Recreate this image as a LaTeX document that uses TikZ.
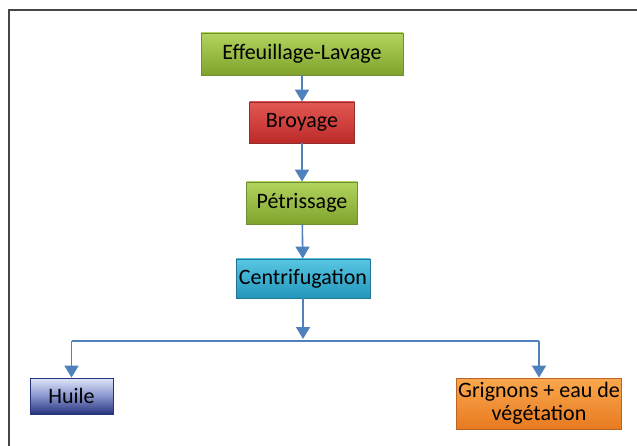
\documentclass[tikz,border=0pt]{standalone}
\usepackage{fontspec}
\setmainfont{Carlito}
\usepackage{xcolor}
\usetikzlibrary{arrows.meta}

\definecolor{fleche}{RGB}{79,129,189}
\definecolor{cadre}{RGB}{70,70,70}
\definecolor{verthaut}{RGB}{178,212,95}
\definecolor{vertbas}{RGB}{128,163,45}
\definecolor{vertbord}{RGB}{112,142,52}
\definecolor{rougehaut}{RGB}{226,88,82}
\definecolor{rougebas}{RGB}{188,42,42}
\definecolor{rougebord}{RGB}{150,45,45}
\definecolor{cyanhaut}{RGB}{88,198,228}
\definecolor{cyanbas}{RGB}{35,150,186}
\definecolor{cyanbord}{RGB}{32,118,148}
\definecolor{bleuhaut}{RGB}{225,230,248}
\definecolor{bleumil}{RGB}{135,148,205}
\definecolor{bleubas}{RGB}{38,52,125}
\definecolor{bleubord}{RGB}{38,52,125}
\definecolor{orangehaut}{RGB}{250,168,78}
\definecolor{orangebas}{RGB}{232,122,32}
\definecolor{orangebord}{RGB}{190,100,35}
\tikzset{
  etape/.style={draw=#1bord, line width=0.8pt, inner sep=2pt,
    minimum height=40pt, font=\fontsize{22}{24}\selectfont,
    top color=#1haut, bottom color=#1bas},
  fl/.style={draw=fleche, line width=1.6pt,
    -{Triangle[width=14pt,length=12pt]}},
  trait/.style={draw=fleche, line width=1.6pt}
}

\begin{document}
\begin{tikzpicture}[x=1pt,y=-1pt]
			\useasboundingbox (0,0) rectangle (637,446);
			% Cadre
			\draw [cadre, line width=2pt] (637,10.5) -- (8.5,10.5) -- (8.5,446);
			% Les etapes
			\node [etape=vert, minimum width=202pt, minimum height=42pt] (eff) at (302,54) {Effeuillage-Lavage};
			\node [etape=rouge, minimum width=105pt, minimum height=41pt] (broy) at (302,122.5) {Broyage};
			\node [etape=vert, minimum width=111pt, minimum height=42pt] (petr) at (302,203) {Pétrissage};
			\node [etape=cyan, minimum width=134pt, minimum height=39pt] (cent) at (303,278.5) {Centrifugation};
			\node [etape=bleu, middle color=bleumil, minimum width=83pt, minimum height=36pt] (huile) at (71.5,396) {Huile};
			\node [etape=orange, minimum width=164pt, minimum height=51pt, align=center, font=\fontsize{22}{23}\selectfont] (grig) at (539,403.5) {Grignons + eau de\\végétation};
			% Fleches
			\draw [fl] (eff) -- (broy);
			\draw [fl] (broy) -- (petr);
			\draw [fl] (petr) -- (cent);
			\coordinate (bas) at (303,339);
			\draw [fl] (cent) -- (bas);
			\coordinate (g) at (71.5,341);
			\coordinate (d) at (539,341);
			\draw [trait] (g) -- (d);
			\draw [fl] (g) -- (huile);
			\draw [fl] (d) -- (grig);
		\end{tikzpicture}
\end{document}
